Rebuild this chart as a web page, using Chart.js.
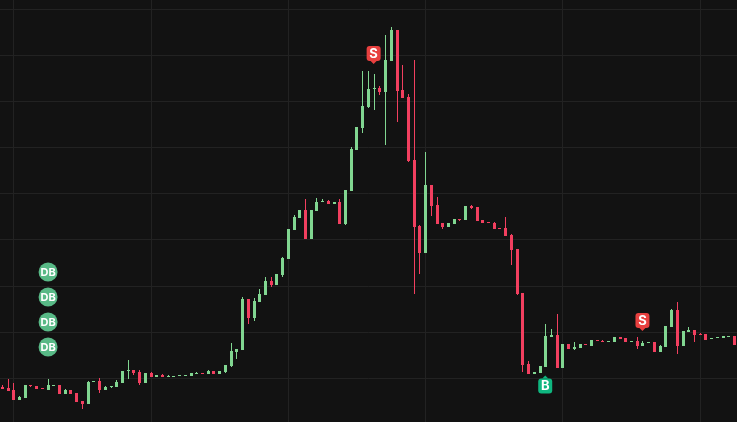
<!DOCTYPE html>
<html><head><meta charset="utf-8">
<style>html,body{margin:0;padding:0;background:#121212;overflow:hidden}canvas{display:block}</style>
<script src="https://cdn.jsdelivr.net/npm/chart.js@4"></script>
</head><body><canvas id="c" width="737" height="422"></canvas>
<script>
const opens=[35,34,32,22,24,37,36,34,32,36,37,28,32,29,21,18,40,41,32,35,35,39,51,52,50,39,49,45,47,45,45,46,46,46,48,49,48,51,48,50,56,70,72,123,104,120,127,141,137,147,163,192,204,212,183,211,220,221,218,220,198,231,272,294,315,333,334,330,361,392,332,325,262,196,169,237,217,199,195,198,203,202,216,215,202,200,199,194,194,187,173,129,58,48,49,55,85,87,54,78,73,74,78,76,82,81,80,80,85,84,80,81,76,79,80,70,75,95,112,76,90,92,88,88,83,84,84,85,86];
const closes=[33,31,22,25,37,36,33,33,37,37,28,32,28,20,18,40,41,32,35,36,40,51,52,49,39,49,45,47,45,46,46,47,47,49,49,48,51,48,51,57,71,73,123,104,121,128,141,137,148,164,193,205,212,183,212,220,221,218,220,198,232,273,295,316,333,334,330,362,392,331,324,261,195,169,237,216,198,195,199,203,202,216,214,201,199,199,193,193,186,172,128,57,48,50,56,86,87,54,78,73,75,78,77,82,81,80,81,85,83,80,81,76,79,80,70,76,96,112,76,91,92,87,87,82,84,85,86,86,77];
const highs=[37,43,39,26,37,37,36,34,43,37,37,33,32,29,21,41,41,44,36,36,42,51,62,52,52,49,50,47,48,47,46,47,47,49,50,49,52,51,51,57,79,73,125,123,124,133,145,145,148,165,193,207,212,223,212,224,223,222,220,223,232,275,295,351,351,348,336,387,395,392,357,328,362,197,270,237,225,199,199,203,203,216,217,215,202,200,200,194,205,188,173,129,61,50,56,98,93,108,78,78,80,78,78,82,82,82,81,85,85,84,81,85,81,80,80,77,96,113,120,91,95,92,89,88,84,85,86,86,86];
const lows=[33,31,22,22,24,35,33,33,32,36,28,28,28,20,13,18,40,29,32,34,35,39,43,47,37,39,45,45,45,45,45,46,46,46,48,48,48,48,48,49,55,63,72,98,101,120,127,135,137,145,163,192,204,183,183,211,220,218,218,198,197,231,272,289,314,312,327,277,361,300,324,260,128,148,169,206,198,193,195,198,201,202,213,201,199,199,193,193,186,157,127,50,48,48,49,55,85,54,54,73,72,74,77,76,81,80,80,80,83,80,80,73,76,79,70,70,75,95,68,76,90,80,87,82,83,84,84,85,77];
const candleIndex=opens.map((_,i)=>i);
const dbIndex=[8,8,8,8];
const dbPrice=[150,125,100,75];
const dbText=["DB","DB","DB","DB"];
const pinIndex=[65,95,112];
const pinPrice=[368.5,36,101.5];
const pinText=["S","B","S"];
const gridX=[2,26,50,74,98,122];
const gridY=[43.5,89.7,136,182.2,228.4,274.6,320.8,366.9,413];
const UP="#81d691",DOWN="#f23f5f",BG="#121212",GRID="#222222";

const markers={id:"markers",afterDatasetsDraw(ch){
  const g=ch.ctx,x=ch.scales.x,y=ch.scales.y;
  g.save();g.textAlign="center";g.textBaseline="middle";
  dbIndex.forEach((v,k)=>{
    const px=x.getPixelForValue(v),py=y.getPixelForValue(dbPrice[k]);
    g.fillStyle="#58b986";g.beginPath();g.arc(px,py,9.5,0,Math.PI*2);g.fill();
    g.fillStyle="#ffffff";g.font="bold 11px Inter, sans-serif";g.fillText(dbText[k],px,py+.5);
  });
  pinIndex.forEach((v,k)=>{
    const px=x.getPixelForValue(v)-0.5,py=y.getPixelForValue(pinPrice[k]),t=pinText[k],buy=t==="B";
    g.fillStyle=buy?"#0fb67f":"#e8403f";
    g.beginPath();g.roundRect(px-7,py-7.5,14,15,3);g.fill();
    g.beginPath();
    if(buy){g.moveTo(px-3,py-7.5);g.lineTo(px,py-10.5);g.lineTo(px+3,py-7.5);}
    else{g.moveTo(px-3,py+7.5);g.lineTo(px,py+10.5);g.lineTo(px+3,py+7.5);}
    g.fill();
    g.fillStyle="#ffffff";g.font="bold 13px Inter, sans-serif";g.fillText(t,px,py+.5);
  });
  g.restore();
}};
const snap={id:"snap",beforeDatasetsDraw(ch){
  ch.getSortedVisibleDatasetMetas().forEach(m=>m.data.forEach(e=>{
    if(e.width==null)return;
    e.x=Math.round(e.x-e.width/2)+e.width/2;
    e.y=Math.round(e.y);e.base=Math.round(e.base);
  }));
}};
const colors=opens.map((o,i)=>closes[i]>=o?UP:DOWN);
new Chart(document.getElementById("c"),{
  type:"bar",
  data:{datasets:[
    {label:"Wick",data:candleIndex.map(i=>({x:i,y:[lows[i],highs[i]]})),backgroundColor:colors,barThickness:1,grouped:false,inflateAmount:0,order:2},
    {label:"Body",data:candleIndex.map(i=>({x:i,y:[opens[i],closes[i]]})),backgroundColor:colors,barThickness:3,grouped:false,inflateAmount:0,order:1}
  ]},
  options:{
    responsive:false,animation:false,devicePixelRatio:1,
    layout:{padding:0},
    plugins:{legend:{display:false},tooltip:{enabled:false}},
    scales:{
      x:{type:"linear",min:-0.407,max:128.44,offset:false,
        afterBuildTicks(a){a.ticks=gridX.map(value=>({value}));},
        ticks:{display:false},border:{display:false},grid:{offset:false,color:GRID,drawTicks:false,lineWidth:1}},
      y:{type:"linear",min:0,max:422,
        afterBuildTicks(a){a.ticks=gridY.map(value=>({value}));},
        ticks:{display:false},border:{display:false},grid:{color:GRID,drawTicks:false,lineWidth:1}}
    }
  },
  plugins:[{id:"bg",beforeDraw(ch){ch.ctx.fillStyle=BG;ch.ctx.fillRect(0,0,737,422);}},snap,markers]
});
</script></body></html>
